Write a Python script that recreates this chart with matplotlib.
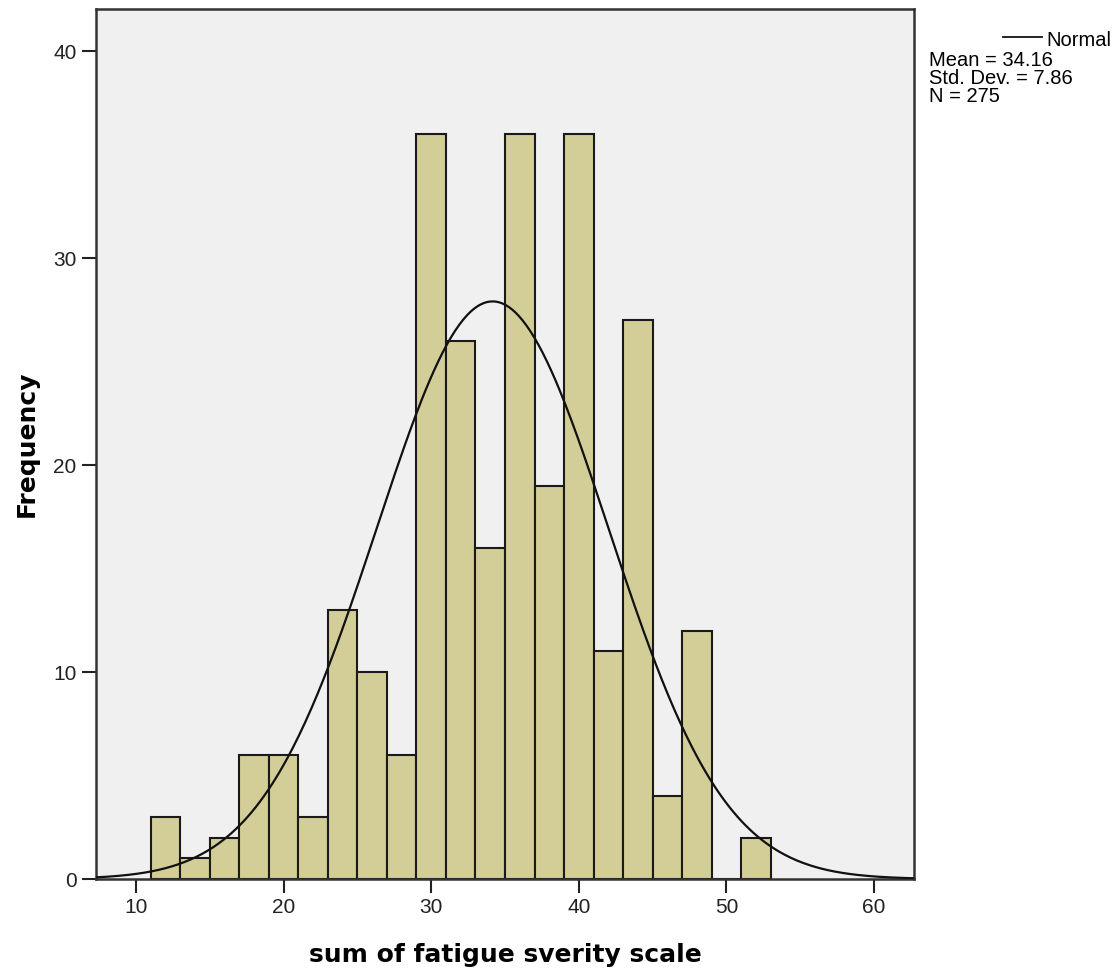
import numpy as np
import matplotlib
matplotlib.use("Agg")
import matplotlib.pyplot as plt

plt.rcParams['font.family'] = ['Liberation Sans', 'DejaVu Sans']

# histogram data (bin width 2)
bin_left = [11, 13, 15, 17, 19, 21, 23, 25, 27, 29, 31, 33, 35, 37, 39, 41, 43, 45, 47, 49, 51]
counts = [3, 1, 2, 6, 6, 3, 13, 10, 6, 36, 26, 16, 36, 19, 36, 11, 27, 4, 12, 0, 2]
bin_width = 2
mean_val = 34.16
sd_val = 7.86
n_val = 275

fig = plt.figure(figsize=(11.18, 9.74), dpi=100)
ax = fig.add_axes([0.0859, 0.0975, 0.7316, 0.8933])
ax.set_facecolor('#f0f0f0')

ax.bar(bin_left, counts, width=bin_width, align='edge',
       color='#d3ce97', edgecolor='#1a1a1a', linewidth=1.5, zorder=2)

# normal curve from the stated mean / sd
xs = np.linspace(7.3, 62.7, 400)
ys = n_val * bin_width / (sd_val * np.sqrt(2 * np.pi)) * np.exp(-0.5 * ((xs - mean_val) / sd_val) ** 2)
ax.plot(xs, ys, color='#111111', linewidth=1.6, zorder=3)

ax.set_xlim(7.3, 62.7)
ax.set_ylim(0, 42.05)
ax.set_xticks([10, 20, 30, 40, 50, 60])
ax.set_yticks([0, 10, 20, 30, 40])
ax.tick_params(axis='both', direction='out', length=10, width=1.5, labelsize=15,
               colors='#222222', pad=4)
for s in ax.spines.values():
    s.set_linewidth(1.8)
    s.set_color('#333333')

lab_font = dict(fontsize=18, fontweight='bold', family='DejaVu Sans')
fig.text(505 / 1118, 1 - 955 / 974, 'sum of fatigue sverity scale', ha='center', va='center', **lab_font)
fig.text(27 / 1118, 1 - 444 / 974, 'Frequency', ha='center', va='center', rotation=90, **lab_font)

# legend / stats box
fig.add_artist(plt.Line2D([1003 / 1118, 1042 / 1118], [1 - 37 / 974, 1 - 37 / 974],
                          color='#111111', linewidth=1.3))
fig.text(1046 / 1118, 1 - 40 / 974, 'Normal', fontsize=14.5, va='center', ha='left')
stats = ['Mean = %.2f' % mean_val, 'Std. Dev. = %.2f' % sd_val, 'N = %d' % n_val]
for i, t in enumerate(stats):
    fig.text(929 / 1118, 1 - (60 + i * 18) / 974, t, fontsize=14.5, va='center', ha='left')

fig.savefig('out.png', dpi=100)
